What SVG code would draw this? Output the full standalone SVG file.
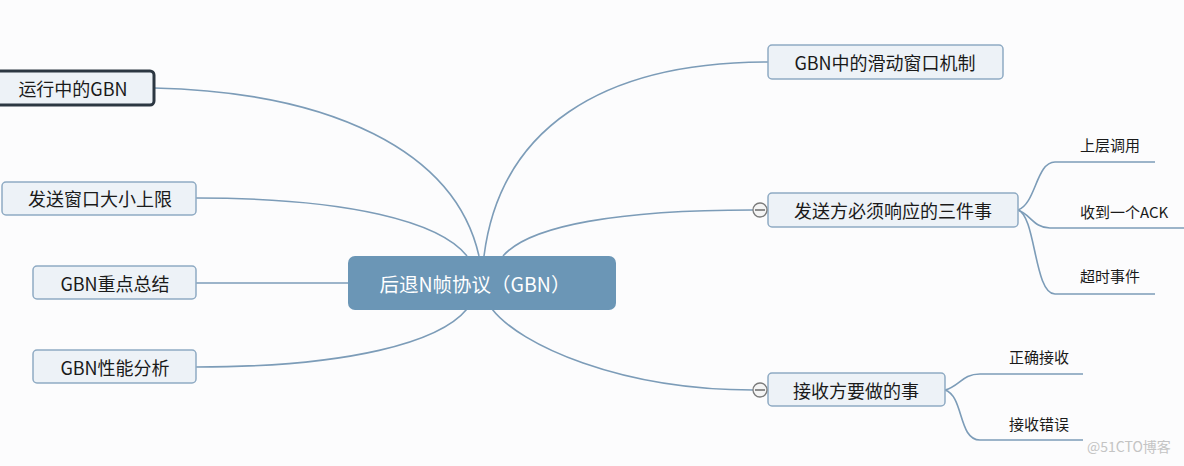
<svg xmlns="http://www.w3.org/2000/svg" width="1184" height="466" viewBox="0 0 1184 466">
<style>
.bg{fill:#fcfcfd}
.box{fill:#edf2f7;stroke:#8eaac3;stroke-width:1.5}
.sel{fill:#edf2f7;stroke:#2c3742;stroke-width:3}
.root{fill:#6b96b6}
.t{font-family:"Noto Sans CJK SC","Noto Sans",sans-serif;font-size:18px;fill:#1a1a1a;text-anchor:middle;dominant-baseline:central}
.rt{font-family:"Noto Sans CJK SC","Noto Sans",sans-serif;font-size:19.5px;fill:#ffffff;text-anchor:middle;dominant-baseline:central}
.st{font-family:"Noto Sans CJK SC","Noto Sans",sans-serif;font-size:15px;fill:#1a1a1a;dominant-baseline:central}
.wm{font-family:"Noto Sans CJK SC","Noto Sans",sans-serif;font-size:14px;fill:#c4c4c4}
.c{fill:none;stroke:#7c9cb8;stroke-width:1.6}
.col{fill:#f4f4f4;stroke:#7a7a7a;stroke-width:1.3}
</style>
<rect class="bg" x="0" y="0" width="1184" height="466"/>
<g id="connectors">
<path class="c" d="M154,88 C330,92 455,150 479,256"/>
<path class="c" d="M196,198 C350,198 440,222 467,256"/>
<path class="c" d="M196,283 L348,283"/>
<path class="c" d="M196,367 C350,367 440,342 467,309"/>
<path class="c" d="M768,62 C600,62 500,130 484,256"/>
<path class="c" d="M753,210 C620,210 530,225 503,256"/>
<path class="c" d="M753,390 C620,390 520,345 492,309"/>
<path class="c" d="M1018,210 C1036,204 1036,162 1055,162 L1155,162"/>
<path class="c" d="M1018,210 C1030,214 1034,228 1050,228 L1184,228"/>
<path class="c" d="M1018,210 C1036,216 1034,294 1055,294 L1155,294"/>
<path class="c" d="M945,390 C960,386 962,374 980,374 L1083,374"/>
<path class="c" d="M945,390 C964,396 958,440 980,440 L1083,440"/>
</g>
<g id="root">
<rect class="root" x="348" y="256" width="268" height="54" rx="7"/>
<text class="rt" x="475" y="283">后退N帧协议（GBN）</text>
</g>
<g id="n-running">
<rect class="sel" x="-6" y="71" width="160" height="34" rx="4"/>
<text class="t" x="73" y="88">运行中的GBN</text>
</g>
<g id="n-window-limit">
<rect class="box" x="2" y="182" width="194" height="33" rx="4"/>
<text class="t" x="100" y="198">发送窗口大小上限</text>
</g>
<g id="n-summary">
<rect class="box" x="33" y="266" width="163" height="33" rx="4"/>
<text class="t" x="115" y="283">GBN重点总结</text>
</g>
<g id="n-perf">
<rect class="box" x="33" y="350" width="163" height="33" rx="4"/>
<text class="t" x="115" y="367">GBN性能分析</text>
</g>
<g id="n-sliding">
<rect class="box" x="768" y="45" width="235" height="34" rx="4"/>
<text class="t" x="885" y="62">GBN中的滑动窗口机制</text>
</g>
<g id="n-sender">
<rect class="box" x="768" y="193" width="250" height="34" rx="4"/>
<text class="t" x="893" y="210">发送方必须响应的三件事</text>
<circle class="col" cx="760" cy="210" r="7"/>
<line x1="755" y1="210" x2="765" y2="210" stroke="#555" stroke-width="1.3"/>
</g>
<g id="n-receiver">
<rect class="box" x="768" y="373" width="177" height="33" rx="4"/>
<text class="t" x="856" y="390">接收方要做的事</text>
<circle class="col" cx="760" cy="390" r="7"/>
<line x1="755" y1="390" x2="765" y2="390" stroke="#555" stroke-width="1.3"/>
</g>
<g id="s-upper">
<text class="st" x="1080" y="144">上层调用</text>
</g>
<g id="s-ack">
<text class="st" x="1080" y="211">收到一个ACK</text>
</g>
<g id="s-timeout">
<text class="st" x="1080" y="275">超时事件</text>
</g>
<g id="s-correct">
<text class="st" x="1009" y="356">正确接收</text>
</g>
<g id="s-error">
<text class="st" x="1009" y="423">接收错误</text>
</g>
<text class="wm" x="1087" y="452">@51CTO博客</text>
</svg>
